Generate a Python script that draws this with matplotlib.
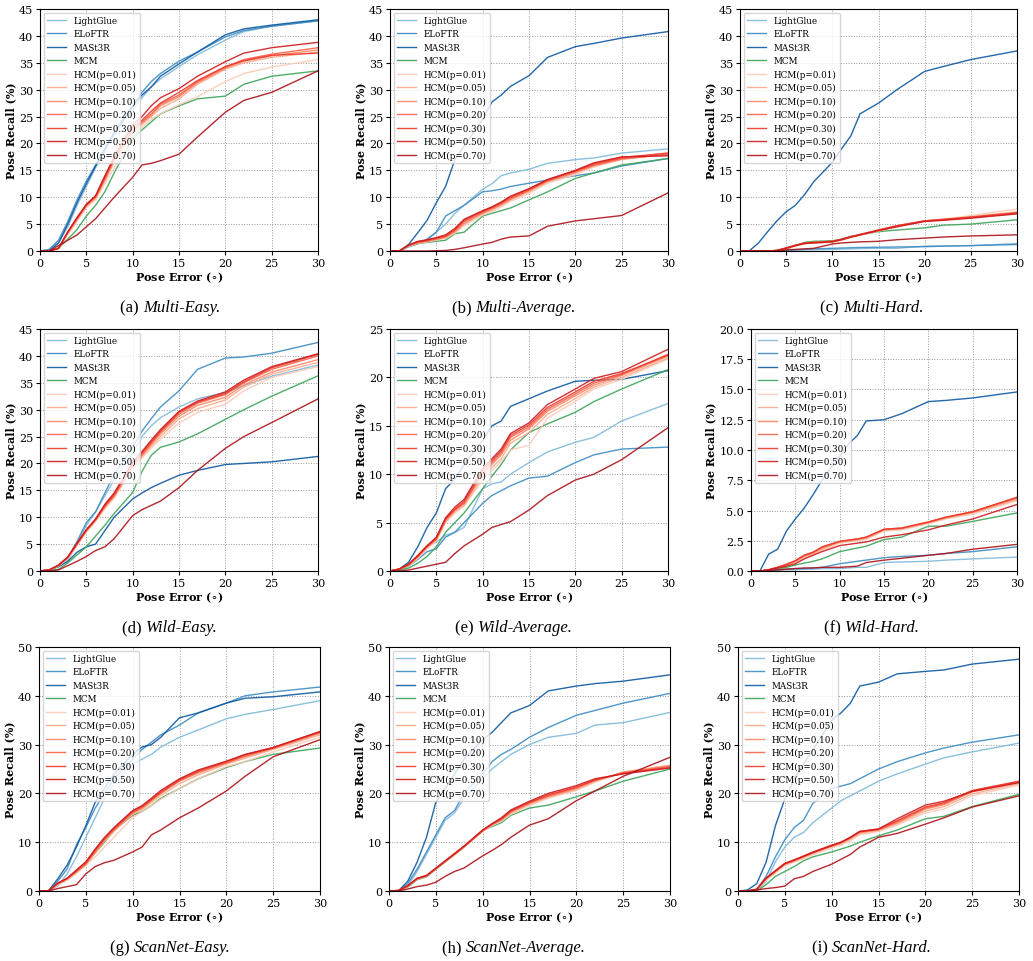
import numpy as np
import matplotlib
matplotlib.use("Agg")
from matplotlib import pyplot as plt
from matplotlib.ticker import MultipleLocator, FormatStrFormatter
from matplotlib.offsetbox import TextArea, HPacker, AnnotationBbox

W, H = 1033, 962

# pose error thresholds (deg) at which the recall curves were read
pose_err = [0, 1, 2, 3, 4, 5, 6, 7, 8, 10, 11, 12, 13, 15, 17, 20, 22, 25, 30]

methods = ["LightGlue", "ELoFTR", "MASt3R", "MCM",
           "HCM(p=0.01)", "HCM(p=0.05)", "HCM(p=0.10)", "HCM(p=0.20)",
           "HCM(p=0.30)", "HCM(p=0.50)", "HCM(p=0.70)"]

multi_easy = {
    "LightGlue":   [0, 0.2, 1.5, 4.5, 8.5, 12, 15.5, 18.5, 21.5, 26.5, 28.5, 30.5, 32, 34.3, 36.5, 39.2, 40.8, 41.8, 42.8],
    "ELoFTR":      [0, 0.3, 2, 5.5, 9.5, 13, 16, 19, 22, 27, 29.5, 31.5, 33, 35.3, 37, 39.8, 41, 41.8, 42.8],
    "MASt3R":      [0, 0, 1.5, 5, 9, 12.5, 15.8, 19, 22, 27, 29, 30.5, 32.5, 34.8, 37, 40.2, 41.3, 42, 43],
    "MCM":         [0, 0, 0.5, 2.2, 4, 6.5, 8.5, 11, 14.5, 21, 22.5, 24, 25.5, 27, 28.3, 28.8, 31, 32.5, 33.5],
    "HCM(p=0.01)": [0, 0, 0.4, 3, 5.5, 8, 9.5, 12.5, 15.5, 21.5, 23, 24.5, 25.5, 27.2, 28.7, 31.5, 33, 34.2, 35.6],
    "HCM(p=0.05)": [0, 0, 0.5, 3.3, 5.8, 8.3, 9.8, 13, 16.5, 22, 23.5, 25, 26.5, 28.3, 31, 33.8, 35, 36, 37],
    "HCM(p=0.10)": [0, 0, 0.5, 3.4, 6, 8.5, 10, 13.3, 17, 22.2, 23.8, 25.3, 27, 28.7, 31.3, 34, 35.3, 36.3, 37.4],
    "HCM(p=0.20)": [0, 0, 0.5, 3.5, 6, 8.5, 10, 13.5, 17, 22.5, 24, 25.5, 27.3, 29, 31.5, 34.2, 35.6, 36.6, 37.8],
    "HCM(p=0.30)": [0, 0, 0.5, 3.6, 6.2, 8.7, 10.2, 13.7, 17.3, 23, 24.3, 26, 27.5, 29.5, 31.7, 34.3, 35.4, 36.4, 36.8],
    "HCM(p=0.50)": [0, 0, 0.5, 3.5, 6.2, 8.6, 10.3, 14, 17.5, 23.5, 25, 27, 28.5, 30.2, 32.5, 35.2, 36.8, 37.8, 38.8],
    "HCM(p=0.70)": [0, 0, 1, 2, 3, 4.5, 6, 8, 10, 13.7, 16, 16.3, 16.8, 18, 21.2, 25.8, 28, 29.5, 33.5],
}

multi_avg = {
    "LightGlue":   [0, 0, 0.8, 1.5, 2, 3.5, 5, 7, 8.5, 11.5, 12.5, 14, 14.5, 15.2, 16.3, 17, 17.3, 18.2, 19],
    "ELoFTR":      [0, 0, 0.8, 1.3, 2.2, 3.5, 6.5, 7.5, 8.5, 11, 11.2, 11.5, 12, 12.6, 13.2, 14, 14.5, 15.8, 17.2],
    "MASt3R":      [0, 0, 1.2, 3.4, 5.7, 9, 12, 17, 19.5, 24.5, 27.7, 29, 30.6, 32.6, 36, 38, 38.6, 39.6, 40.8],
    "MCM":         [0, 0, 1, 1.4, 1.6, 1.8, 2, 3.2, 3.5, 6.5, 7, 7.5, 8, 9.5, 11, 13.5, 14.5, 16, 17.2],
    "HCM(p=0.01)": [0, 0, 0.9, 1.4, 1.7, 2, 2.4, 3.3, 4.7, 6.7, 7.3, 8.2, 9.2, 10.7, 12.6, 14.2, 15.6, 17.1, 18.3],
    "HCM(p=0.05)": [0, 0, 1, 1.5, 1.8, 2.1, 2.5, 3.5, 5, 7, 7.6, 8.5, 9.5, 11, 12.8, 14.5, 15.8, 17, 18.1],
    "HCM(p=0.10)": [0, 0, 1, 1.5, 1.8, 2.2, 2.6, 3.6, 5.2, 7, 7.8, 8.6, 9.6, 11.2, 13, 14.6, 15.9, 17.1, 18],
    "HCM(p=0.20)": [0, 0, 1, 1.6, 1.9, 2.3, 2.7, 3.8, 5.5, 7.2, 8, 8.8, 9.8, 11.3, 13.1, 14.8, 16, 17.2, 17.9],
    "HCM(p=0.30)": [0, 0, 1.1, 1.7, 2, 2.4, 2.8, 4, 5.7, 7.4, 8.1, 9, 10, 11.5, 13.2, 14.9, 16.2, 17.4, 18.2],
    "HCM(p=0.50)": [0, 0, 1.1, 1.8, 2.1, 2.5, 3, 4.2, 5.9, 7.5, 8.2, 9.1, 10.2, 11.6, 13.3, 15, 16.4, 17.5, 17.7],
    "HCM(p=0.70)": [0, 0, 0, 0, 0, 0.05, 0.1, 0.3, 0.6, 1.3, 1.6, 2.2, 2.6, 2.8, 4.6, 5.6, 6, 6.6, 10.8],
}

multi_hard = {
    "LightGlue":   [0, 0, 0, 0, 0, 0.1, 0.15, 0.2, 0.2, 0.3, 0.35, 0.4, 0.45, 0.5, 0.5, 0.9, 0.95, 1.0, 1.4],
    "ELoFTR":      [0, 0, 0, 0, 0.05, 0.1, 0.2, 0.3, 0.4, 0.5, 0.55, 0.6, 0.65, 0.7, 0.75, 0.8, 0.9, 1.0, 1.2],
    "MASt3R":      [0, 0, 1.5, 3.6, 5.6, 7.3, 8.5, 10.5, 12.9, 16.5, 19, 21.4, 25.5, 27.5, 30, 33.4, 34.3, 35.6, 37.2],
    "MCM":         [0, 0, 0, 0, 0.1, 0.3, 1, 1.6, 1.8, 1.9, 2.2, 2.7, 3, 3.6, 3.9, 4.3, 4.8, 5, 5.8],
    "HCM(p=0.01)": [0, 0, 0, 0, 0.1, 0.4, 0.9, 1.3, 1.5, 1.6, 2.0, 2.5, 2.9, 3.7, 4.5, 5.6, 5.9, 6.6, 7.8],
    "HCM(p=0.05)": [0, 0, 0, 0, 0.1, 0.5, 1, 1.4, 1.5, 1.7, 2.1, 2.6, 3, 3.8, 4.6, 5.6, 5.8, 6.4, 7.3],
    "HCM(p=0.10)": [0, 0, 0, 0, 0.1, 0.5, 1, 1.4, 1.6, 1.7, 2.1, 2.6, 3, 3.8, 4.6, 5.5, 5.8, 6.3, 7.1],
    "HCM(p=0.20)": [0, 0, 0, 0, 0.1, 0.5, 1, 1.4, 1.6, 1.8, 2.1, 2.6, 3, 3.9, 4.7, 5.6, 5.8, 6.2, 7.0],
    "HCM(p=0.30)": [0, 0, 0, 0, 0.1, 0.6, 1.1, 1.5, 1.6, 1.8, 2.2, 2.7, 3.1, 3.9, 4.7, 5.6, 5.9, 6.3, 7.1],
    "HCM(p=0.50)": [0, 0, 0, 0, 0.1, 0.5, 1, 1.4, 1.5, 1.7, 2.1, 2.6, 3, 3.8, 4.5, 5.5, 5.7, 6.1, 6.9],
    "HCM(p=0.70)": [0, 0, 0, 0, 0, 0.2, 0.3, 0.4, 0.5, 1.3, 1.5, 1.6, 1.7, 1.8, 2.1, 2.4, 2.6, 2.8, 3.0],
}

wild_easy = {
    "LightGlue":   [0, 0.2, 0.8, 2, 5, 8.5, 11, 14, 17, 22, 25, 27, 28.5, 30.5, 32, 33.2, 34.5, 36.2, 38.3],
    "ELoFTR":      [0, 0.2, 1, 2.5, 5.5, 9, 11, 14.5, 18, 23, 26, 28.3, 30.5, 33.5, 37.5, 39.6, 39.8, 40.5, 42.5],
    "MASt3R":      [0, 0.2, 0.8, 1.8, 3.5, 4.5, 5, 7.5, 10, 13.4, 14.5, 15.5, 16.3, 17.8, 18.7, 19.8, 20, 20.3, 21.3],
    "MCM":         [0, 0.1, 0.3, 1.5, 3, 4.5, 6.5, 8.5, 10.7, 14.6, 18.5, 21.5, 23, 24, 25.5, 28.2, 30, 32.5, 36.3],
    "HCM(p=0.01)": [0, 0.2, 0.9, 2.3, 4.7, 7.2, 9.2, 11.6, 13.5, 19, 21, 22.8, 24.5, 27.5, 29.5, 31, 33.5, 36, 38],
    "HCM(p=0.05)": [0, 0.2, 1, 2.4, 4.9, 7.4, 9.4, 11.8, 13.8, 19.3, 21.3, 23.2, 25, 28.3, 30.2, 31.8, 34.2, 36.6, 38.8],
    "HCM(p=0.10)": [0, 0.2, 1, 2.5, 5, 7.5, 9.5, 12, 14, 19.5, 21.5, 23.5, 25.5, 28.8, 30.8, 32.3, 34.6, 37, 39.3],
    "HCM(p=0.20)": [0, 0.2, 1, 2.5, 5, 7.5, 9.5, 12, 14, 19.7, 21.7, 23.8, 25.8, 29.2, 31.2, 32.8, 35, 37.5, 40],
    "HCM(p=0.30)": [0, 0.2, 1.1, 2.6, 5.1, 7.6, 9.6, 12.2, 14.3, 20, 22, 24, 26, 29.5, 31.4, 33, 35.2, 37.8, 40.3],
    "HCM(p=0.50)": [0, 0.2, 1.1, 2.6, 5.2, 7.7, 9.7, 12.4, 14.5, 20.2, 22.2, 24.3, 26.3, 29.7, 31.6, 33.3, 35.5, 38, 40.4],
    "HCM(p=0.70)": [0, 0, 0.2, 1, 1.8, 2.7, 3.8, 4.5, 6, 10.3, 11.4, 12.2, 13, 15.5, 18.7, 22.8, 25, 27.6, 32],
}

wild_avg = {
    "LightGlue":   [0, 0.2, 0.5, 1.5, 2.5, 3, 3.7, 4, 4.5, 8.5, 9, 9.2, 10, 11.2, 12.3, 13.3, 13.8, 15.5, 17.3],
    "ELoFTR":      [0, 0.1, 0.5, 1.2, 2, 2.3, 3.5, 4, 5, 7, 7.8, 8.3, 8.8, 9.6, 9.8, 11.2, 12, 12.6, 12.8],
    "MASt3R":      [0, 0.2, 0.9, 2.5, 4.5, 6, 8.5, 9.5, 11, 13.5, 15, 15.5, 17, 17.8, 18.6, 19.6, 19.7, 19.8, 20.7],
    "MCM":         [0, 0.1, 0.3, 0.8, 1.5, 2.5, 4, 5, 6, 8.5, 9.8, 11, 12.5, 14.3, 15.2, 16.4, 17.5, 18.8, 20.8],
    "HCM(p=0.01)": [0, 0.2, 0.5, 1.3, 2.3, 3.1, 5, 6, 6.7, 9.4, 10.4, 11.3, 12.5, 13, 15.8, 17.5, 18.8, 19.8, 21.9],
    "HCM(p=0.05)": [0, 0.2, 0.6, 1.4, 2.4, 3.2, 5.1, 6.1, 6.8, 9.7, 10.7, 11.6, 13.2, 14.3, 16.2, 17.8, 19, 20, 22],
    "HCM(p=0.10)": [0, 0.2, 0.6, 1.5, 2.5, 3.3, 5.3, 6.3, 7, 10, 11, 12, 13.5, 14.7, 16.5, 18.1, 19.2, 20.2, 22.2],
    "HCM(p=0.20)": [0, 0.2, 0.6, 1.5, 2.5, 3.3, 5.3, 6.3, 7, 10.2, 11.2, 12.2, 13.8, 14.9, 16.7, 18.3, 19.4, 20.3, 22.4],
    "HCM(p=0.30)": [0, 0.2, 0.7, 1.6, 2.6, 3.4, 5.4, 6.4, 7.2, 10.4, 11.4, 12.4, 14, 15.1, 16.9, 18.5, 19.6, 20.4, 22.3],
    "HCM(p=0.50)": [0, 0.2, 0.7, 1.6, 2.6, 3.5, 5.5, 6.6, 7.4, 10.6, 11.6, 12.6, 14.2, 15.3, 17.2, 18.8, 19.9, 20.6, 22.9],
    "HCM(p=0.70)": [0, 0, 0.1, 0.3, 0.5, 0.7, 0.9, 1.8, 2.6, 3.8, 4.5, 4.8, 5.1, 6.3, 7.8, 9.4, 10, 11.5, 14.8],
}

wild_hard = {
    "LightGlue":   [0, 0, 0, 0.05, 0.1, 0.1, 0.15, 0.15, 0.2, 0.2, 0.25, 0.3, 0.3, 0.7, 0.75, 0.8, 0.9, 1.0, 1.15],
    "ELoFTR":      [0, 0, 0.05, 0.1, 0.15, 0.2, 0.2, 0.25, 0.3, 0.6, 0.7, 0.8, 0.9, 1.1, 1.2, 1.3, 1.45, 1.6, 2.0],
    "MASt3R":      [0, 0, 1.4, 1.8, 3.3, 4.3, 5.2, 6.3, 7.5, 9.5, 10.5, 11.2, 12.4, 12.5, 13, 14, 14.1, 14.3, 14.8],
    "MCM":         [0, 0, 0.05, 0.2, 0.3, 0.5, 0.65, 0.8, 1.0, 1.6, 1.75, 1.9, 2.05, 2.6, 2.8, 3.7, 3.7, 4.1, 4.8],
    "HCM(p=0.01)": [0, 0, 0.1, 0.3, 0.5, 0.7, 1.1, 1.35, 1.7, 2.3, 2.4, 2.5, 2.6, 3.3, 3.4, 3.9, 4.3, 4.7, 5.8],
    "HCM(p=0.05)": [0, 0, 0.1, 0.3, 0.5, 0.8, 1.2, 1.4, 1.8, 2.4, 2.5, 2.6, 2.7, 3.4, 3.5, 4, 4.4, 4.8, 5.9],
    "HCM(p=0.10)": [0, 0, 0.1, 0.3, 0.5, 0.8, 1.25, 1.5, 1.9, 2.4, 2.5, 2.6, 2.75, 3.4, 3.5, 4, 4.4, 4.85, 6.0],
    "HCM(p=0.20)": [0, 0, 0.1, 0.3, 0.55, 0.85, 1.3, 1.55, 1.95, 2.45, 2.55, 2.65, 2.8, 3.45, 3.55, 4.05, 4.45, 4.9, 6.05],
    "HCM(p=0.30)": [0, 0, 0.1, 0.3, 0.55, 0.85, 1.3, 1.55, 2.0, 2.45, 2.55, 2.65, 2.8, 3.45, 3.55, 4.05, 4.45, 4.9, 6.1],
    "HCM(p=0.50)": [0, 0, 0.1, 0.25, 0.4, 0.6, 1.0, 1.3, 1.6, 2.1, 2.2, 2.3, 2.4, 2.8, 3.0, 3.4, 3.8, 4.3, 5.5],
    "HCM(p=0.70)": [0, 0, 0.05, 0.1, 0.15, 0.2, 0.25, 0.25, 0.3, 0.3, 0.35, 0.4, 0.7, 0.9, 1.05, 1.3, 1.45, 1.8, 2.2],
}

scan_easy = {
    "LightGlue":   [0, 0, 1, 3.5, 7, 11, 15, 19, 22, 26, 27, 28, 29.5, 31.5, 33, 35.3, 36.2, 37.2, 39],
    "ELoFTR":      [0, 0, 2, 4.5, 9.5, 13, 17, 20, 23, 27, 29, 30.5, 32, 34, 36.5, 38.5, 40, 40.8, 41.8],
    "MASt3R":      [0, 0, 2.5, 5.3, 9, 13.4, 18.2, 21, 24, 28, 29.5, 30, 31.5, 35.5, 36.5, 38.5, 39.5, 39.8, 40.8],
    "MCM":         [0, 0, 1.3, 2.3, 3.8, 5.5, 7.8, 10, 12.5, 15.5, 16.3, 17.5, 19, 21, 23, 25.3, 26.5, 28, 29.3],
    "HCM(p=0.01)": [0, 0, 1.2, 2.2, 3.6, 5.2, 7, 9, 11, 15, 16.3, 17.5, 18.8, 21, 23, 25.5, 26.5, 28.5, 31.5],
    "HCM(p=0.05)": [0, 0, 1.4, 2.4, 3.9, 5.4, 7.8, 10.2, 12.2, 15.7, 16.7, 18.1, 19.6, 22, 23.8, 26, 27.2, 29, 32],
    "HCM(p=0.10)": [0, 0, 1.5, 2.5, 4, 5.5, 8, 10.5, 12.5, 16, 17, 18.5, 20, 22.5, 24.2, 26.2, 27.5, 29.2, 32.3],
    "HCM(p=0.20)": [0, 0, 1.5, 2.5, 4, 5.6, 8.2, 10.6, 12.6, 16.1, 17.1, 18.6, 20.1, 22.6, 24.4, 26.3, 27.7, 29.3, 32.5],
    "HCM(p=0.30)": [0, 0, 1.6, 2.6, 4.2, 5.8, 8.4, 10.8, 12.8, 16.3, 17.3, 18.8, 20.3, 22.8, 24.6, 26.5, 27.9, 29.4, 32.6],
    "HCM(p=0.50)": [0, 0, 1.6, 2.6, 4.3, 6, 8.6, 11, 13, 16.5, 17.5, 19, 20.6, 23, 24.8, 26.6, 28, 29.4, 32.7],
    "HCM(p=0.70)": [0, 0, 0.5, 0.9, 1.3, 3.5, 5, 5.8, 6.3, 8, 9, 11.5, 12.5, 15, 17, 20.5, 23.5, 27.5, 31],
}

scan_avg = {
    "LightGlue":   [0, 0, 1, 4, 7.5, 11, 14.5, 16, 19, 23, 25, 26.5, 28, 30, 31.5, 32.3, 34, 34.5, 36.6],
    "ELoFTR":      [0, 0, 1.5, 4.5, 8, 11.5, 15, 16.5, 20, 24, 26.5, 28, 29, 31.5, 33.5, 36, 37, 38.5, 40.5],
    "MASt3R":      [0, 0, 2, 5.9, 11, 18.2, 21, 24, 27, 31, 32.5, 34.5, 36.5, 38, 41, 42, 42.5, 43, 44.3],
    "MCM":         [0, 0.1, 0.8, 2.3, 2.9, 4.4, 6, 7.4, 9, 12.5, 13.2, 14, 15.5, 17, 17.6, 19.3, 20.5, 22.5, 25],
    "HCM(p=0.01)": [0, 0.1, 0.9, 2.4, 3, 4.5, 6, 7.5, 9, 12.2, 13.4, 14.3, 15.7, 17.5, 19, 20.6, 22.3, 24.3, 25.7],
    "HCM(p=0.05)": [0, 0.1, 1, 2.5, 3, 4.5, 6, 7.5, 9, 12.3, 13.5, 14.5, 16, 17.8, 19.2, 20.8, 22.5, 24.4, 25.8],
    "HCM(p=0.10)": [0, 0.1, 1, 2.5, 3, 4.5, 6, 7.5, 9, 12.3, 13.6, 14.6, 16.1, 17.9, 19.4, 21, 22.6, 24.3, 25.6],
    "HCM(p=0.20)": [0, 0.1, 1, 2.5, 3.1, 4.6, 6.1, 7.6, 9.1, 12.4, 13.7, 14.7, 16.3, 18.1, 19.5, 21.2, 22.7, 24.2, 25.5],
    "HCM(p=0.30)": [0, 0.1, 1, 2.6, 3.1, 4.6, 6.1, 7.6, 9.1, 12.4, 13.7, 14.8, 16.4, 18.2, 19.7, 21.3, 22.8, 24.1, 25.3],
    "HCM(p=0.50)": [0, 0.1, 1.1, 2.6, 3.2, 4.7, 6.2, 7.7, 9.2, 12.5, 13.8, 15, 16.6, 18.4, 20, 21.6, 23, 24, 25.2],
    "HCM(p=0.70)": [0, 0, 0.4, 0.9, 1.2, 1.8, 3, 4, 4.7, 7.2, 8.3, 9.5, 11, 13.5, 14.8, 18.5, 20.5, 23.5, 27.4],
}

scan_hard = {
    "LightGlue":   [0, 0, 0, 2, 6, 9, 11, 12, 14, 17, 18.5, 19.5, 20.5, 22.5, 24, 26, 27.3, 28.5, 30.3],
    "ELoFTR":      [0, 0, 0.3, 3, 7, 10.5, 13, 14.5, 18, 21, 21.5, 22, 23, 25, 26.5, 28.3, 29.3, 30.5, 32],
    "MASt3R":      [0, 0.2, 1.5, 5.9, 13.4, 18.9, 23, 26, 29, 35, 36.5, 38.5, 42, 42.8, 44.5, 45, 45.3, 46.5, 47.5],
    "MCM":         [0, 0, 0, 1.3, 3, 4, 5, 6.2, 7, 8, 8.6, 9.2, 10, 11.3, 12.5, 14.8, 15.3, 17.3, 19.8],
    "HCM(p=0.01)": [0, 0, 0.2, 2.2, 3.7, 5.2, 5.9, 6.6, 7.4, 8.8, 9.4, 10.3, 11.5, 12.2, 13.5, 16, 16.8, 19.5, 21.7],
    "HCM(p=0.05)": [0, 0, 0.3, 2.4, 3.9, 5.4, 6.1, 6.9, 7.7, 9.1, 9.7, 10.6, 11.8, 12.4, 13.8, 16.4, 17.3, 19.9, 22],
    "HCM(p=0.10)": [0, 0, 0.3, 2.5, 4, 5.5, 6.2, 7, 7.8, 9.2, 9.8, 10.8, 12, 12.5, 14, 16.8, 17.7, 20.3, 22.3],
    "HCM(p=0.20)": [0, 0, 0.3, 2.6, 4.1, 5.6, 6.3, 7.1, 7.9, 9.3, 9.9, 10.9, 12.1, 12.6, 14.2, 17, 17.9, 20.5, 22.4],
    "HCM(p=0.30)": [0, 0, 0.3, 2.7, 4.2, 5.7, 6.4, 7.2, 8, 9.4, 10, 11, 12.2, 12.7, 14.4, 17.2, 18.1, 20.6, 22.5],
    "HCM(p=0.50)": [0, 0, 0.4, 2.6, 4.1, 5.6, 6.3, 7.1, 7.9, 9.3, 10, 11, 12.2, 12.7, 14.8, 17.6, 18.4, 20.4, 22.2],
    "HCM(p=0.70)": [0, 0, 0.2, 0.5, 0.7, 1, 2.5, 3, 4, 5.5, 6.5, 7.5, 9, 11, 11.8, 13.7, 15, 17.2, 19.5],
}

panel_data = [multi_easy, multi_avg, multi_hard,
              wild_easy, wild_avg, wild_hard,
              scan_easy, scan_avg, scan_hard]
panel_tags = ["(a) ", "(b) ", "(c) ", "(d) ", "(e) ", "(f) ", "(g) ", "(h) ", "(i) "]
panel_names = ["Multi-Easy.", "Multi-Average.", "Multi-Hard.",
               "Wild-Easy.", "Wild-Average.", "Wild-Hard.",
               "ScanNet-Easy.", "ScanNet-Average.", "ScanNet-Hard."]
y_max = [45, 45, 45, 45, 25, 20, 50, 50, 50]
y_step = [5, 5, 5, 5, 5, 2.5, 10, 10, 10]

# axes boxes in pixels: left, top, right, bottom
boxes = [(40, 10, 318, 252), (390, 10, 668, 252), (740, 10, 1017, 252),
         (40, 330, 318, 572), (390, 330, 668, 572), (751, 330, 1017, 572),
         (39, 648, 320, 892), (389, 648, 670, 892), (738, 648, 1019, 892)]
cap_x = [170, 514, 872]
cap_y = [308, 628, 948]

plt.rcParams['font.family'] = ['DejaVu Serif', 'DejaVu Sans']

blues = plt.cm.Blues([0.45, 0.65, 0.85])
reds = plt.cm.Reds(np.linspace(0.2, 0.85, 7))
colors = [blues[0], blues[1], blues[2], plt.cm.Greens(0.65)] + list(reds)

fig = plt.figure(figsize=(W / 100, H / 100), dpi=100)

for k in range(9):
    l, t, r, b = boxes[k]
    ax = fig.add_axes([l / W, 1 - b / H, (r - l) / W, (b - t) / H])
    data = panel_data[k]
    for m, c in zip(methods, colors):
        ax.plot(pose_err, data[m], color=c, lw=1.0, alpha=0.9, label=m)
    ax.set_xlim(0, 30)
    ax.set_ylim(0, y_max[k])
    ax.xaxis.set_major_locator(MultipleLocator(5))
    ax.yaxis.set_major_locator(MultipleLocator(y_step[k]))
    if y_step[k] < 5:
        ax.yaxis.set_major_formatter(FormatStrFormatter('%.1f'))
    ax.tick_params(labelsize=8, length=3, width=0.8, pad=2)
    ax.grid(True, ls=':', lw=0.7, color='#999999')
    ax.set_xlabel(r'Pose Error ($\circ$)', fontsize=8, fontweight='bold', labelpad=1)
    ax.set_ylabel('Pose Recall (%)', fontsize=8, fontweight='bold', labelpad=2)
    ax.legend(loc='upper left', fontsize=6.3, labelspacing=0.5, handlelength=2.2,
              borderaxespad=0.4, framealpha=0.8)

    # caption: roman tag followed by italic name
    t1 = TextArea(panel_tags[k], textprops=dict(family='Liberation Serif', size=12))
    t2 = TextArea(panel_names[k], textprops=dict(family='Liberation Serif', size=12, style='italic'))
    box = HPacker(children=[t1, t2], pad=0, sep=0, align='baseline')
    ab = AnnotationBbox(box, (cap_x[k % 3] / W, 1 - cap_y[k // 3] / H),
                        xycoords='figure fraction', frameon=False, box_alignment=(0.5, 0.5))
    fig.add_artist(ab)

fig.savefig('out.png', dpi=100)
